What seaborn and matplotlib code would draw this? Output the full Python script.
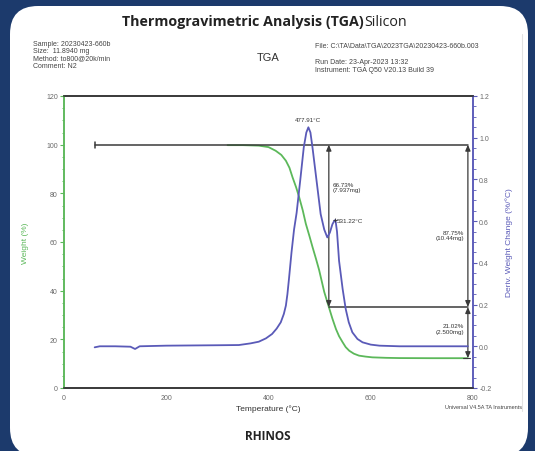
import numpy as np
import pandas as pd
import matplotlib
matplotlib.use("Agg")
import matplotlib.pyplot as plt
from matplotlib.patches import FancyBboxPatch
from matplotlib.lines import Line2D
from matplotlib.ticker import MultipleLocator
import seaborn as sns

# ---------------- data ----------------
weight_temp = [320, 350, 381, 400, 414, 425, 434, 441, 447, 454, 460, 467, 473, 480,
               486, 493, 499, 509, 518, 525, 532, 538, 545, 551, 558, 567, 577, 590,
               603, 630, 656, 720, 790]
weight_pct = [99.8, 99.8, 99.6, 99.0, 97.5, 95.8, 93.4, 90.5, 86.6, 82.5, 78.4, 73.0,
              67.5, 62.5, 58.0, 53.0, 48.5, 39.5, 33.3, 28.5, 24.2, 21.3, 18.8, 16.8,
              15.3, 14.1, 13.3, 12.9, 12.6, 12.4, 12.3, 12.25, 12.25]

deriv_temp = [60, 70, 100, 130, 139, 148, 200, 300, 342, 365, 381, 395, 407, 416, 424,
              430, 434, 437, 440, 445, 450, 455, 462, 469, 474, 478, 482, 486, 494,
              502, 509, 515, 520, 525, 529, 531, 534, 538, 545, 551, 557, 564, 574,
              584, 600, 617, 656, 720, 790]
deriv_val = [-0.005, 0.0, 0.0, -0.002, -0.013, 0.0, 0.003, 0.005, 0.006, 0.014, 0.022,
             0.038, 0.059, 0.085, 0.115, 0.155, 0.195, 0.25, 0.322, 0.45, 0.56, 0.64,
             0.794, 0.954, 1.025, 1.05, 1.025, 0.954, 0.794, 0.634, 0.56, 0.522, 0.545,
             0.585, 0.603, 0.605, 0.55, 0.41, 0.275, 0.179, 0.115, 0.067, 0.035, 0.019,
             0.008, 0.003, 0.0, 0.0, 0.0]

peak_labels = ["477.91°C", "531.22°C"]
peak_temps = [478, 531]
peak_vals = [1.05, 0.605]

step_temp = 518
step_end_temp = 790
step_top = 100.0
step_mid = 33.27
step_end = 12.25
step_labels = ["66.73%\n(7.937mg)", "87.75%\n(10.44mg)", "21.02%\n(2.500mg)"]

x_ticks = [0, 200, 400, 600, 800]
y_ticks = [0, 20, 40, 60, 80, 100, 120]
y2_ticks = [-0.2, 0.0, 0.2, 0.4, 0.6, 0.8, 1.0, 1.2]

info_left = ["Sample: 20230423-660b", "Size:  11.8940 mg", "Method: to800@20k/min", "Comment: N2"]
info_right = ["File: C:\\TA\\Data\\TGA\\2023TGA\\20230423-660b.003", "",
              "Run Date: 23-Apr-2023 13:32", "Instrument: TGA Q50 V20.13 Build 39"]

# ---------------- style ----------------
sns.set_style("white")
plt.rcParams['font.family'] = ['Liberation Sans', 'DejaVu Sans']

W, H = 535, 452
fig = plt.figure(figsize=(W / 100, H / 100), dpi=100)
fig.patch.set_facecolor("#1c3a6c")

panel = FancyBboxPatch((0.10, -0.05), 5.18, 4.50,
                       boxstyle="round,pad=0,rounding_size=0.28",
                       transform=fig.dpi_scale_trans, facecolor="white",
                       edgecolor="none", zorder=-10)
fig.patches.append(panel)
fig.lines.append(Line2D([522 / W, 522 / W], [1 - 35 / H, 1 - 412 / H],
                        transform=fig.transFigure, color="#e2e2e2", lw=0.8, zorder=-5))

GREEN = "#5cb85a"
BLUE = "#5a5ab8"
GREY = "#6a6a6a"
DARK = "#333333"

ax = fig.add_axes([64 / W, 1 - 389 / H, (473 - 64) / W, (389 - 97) / H])
ax.set_facecolor("none")
ax2 = ax.twinx()

wdf = pd.DataFrame({"Temperature": weight_temp, "Weight": weight_pct})
ddf = pd.DataFrame({"Temperature": deriv_temp, "Deriv": deriv_val})

sns.lineplot(data=wdf, x="Temperature", y="Weight", ax=ax, color=GREEN, lw=1.3, zorder=2)
sns.lineplot(data=ddf, x="Temperature", y="Deriv", ax=ax2, color=BLUE, lw=1.3, zorder=2)

ax.set_xlim(0, 800)
ax.set_ylim(0, 120)
ax2.set_ylim(-0.2, 1.2)

ax.set_xticks(x_ticks)
ax.set_yticks(y_ticks)
ax2.set_yticks(y2_ticks)
ax2.set_yticklabels([f"{v:.1f}" for v in y2_ticks])
ax.xaxis.set_minor_locator(MultipleLocator(50))
ax.yaxis.set_minor_locator(MultipleLocator(5))
ax2.yaxis.set_minor_locator(MultipleLocator(0.05))

for a in (ax, ax2):
    a.tick_params(which="major", direction="out", length=3, width=0.8,
                  labelsize=5, labelcolor=GREY, pad=1.5)
    a.tick_params(which="minor", direction="out", length=1.8, width=0.6)
ax.tick_params(axis="y", which="both", color=GREEN)
ax.tick_params(axis="x", which="both", color=DARK)
ax2.tick_params(axis="y", which="both", color=BLUE)

for a in (ax, ax2):
    a.spines["top"].set_color(DARK)
    a.spines["bottom"].set_color(DARK)
    a.spines["left"].set_color(GREEN)
    a.spines["right"].set_color(BLUE)
    for s in a.spines.values():
        s.set_linewidth(1.1)
        s.set_visible(True)

ax.set_xlabel("Temperature (°C)", fontsize=6, color=DARK, labelpad=2)
ax.set_ylabel("Weight (%)", fontsize=6, color=GREEN, labelpad=12)
ax2.set_ylabel("Deriv. Weight Change (%/°C)", fontsize=6, color=BLUE, labelpad=10)

# ---------------- step annotations ----------------
lc = "#3a3a3a"
ax.plot([60, step_end_temp], [step_top, step_top], color=lc, lw=1.1, zorder=3)
ax.plot([60, 60], [step_top - 1.3, step_top + 1.3], color=lc, lw=1.1, zorder=3)
ax.plot([step_temp, step_end_temp], [step_mid, step_mid], color=lc, lw=1.1, zorder=3)
ax.plot([step_end_temp - 10, step_end_temp + 5], [step_end, step_end], color=lc, lw=0.8, zorder=3)
ap = dict(arrowstyle="<|-|>,head_length=0.35,head_width=0.15", color=lc, lw=0.9,
          shrinkA=0, shrinkB=0)
ax.annotate("", xy=(step_temp, step_top), xytext=(step_temp, step_mid), arrowprops=ap, zorder=3)
ax.annotate("", xy=(step_end_temp, step_top), xytext=(step_end_temp, step_mid), arrowprops=ap, zorder=3)
ax.annotate("", xy=(step_end_temp, step_mid), xytext=(step_end_temp, step_end), arrowprops=ap, zorder=3)

ax.text(step_temp + 8, 82.5, step_labels[0], fontsize=4.5, color=DARK, ha="left", va="center",
        linespacing=1.1)
ax.text(step_end_temp - 7, 62.8, step_labels[1], fontsize=4.5, color=DARK, ha="right", va="center",
        linespacing=1.1)
ax.text(step_end_temp - 7, 24.5, step_labels[2], fontsize=4.5, color=DARK, ha="right", va="center",
        linespacing=1.1)

ax2.text(peak_temps[0], peak_vals[0] + 0.025, peak_labels[0], fontsize=4.5, color=DARK,
         ha="center", va="bottom")
ax2.plot([peak_temps[1]], [peak_vals[1]], marker="+", color=DARK, ms=3, mew=0.6)
ax2.text(peak_temps[1] + 3, peak_vals[1], peak_labels[1], fontsize=4.5, color=DARK,
         ha="left", va="center")

# ---------------- header / footer texts ----------------
def ftext(x, y, s, **kw):
    fig.text(x / W, 1 - y / H, s, **kw)

ftext(364, 22, "Thermogravimetric Analysis (TGA)", fontsize=10.3, fontweight="bold",
      family=["Open Sans", "DejaVu Sans"], color="#222222", ha="right", va="center")
ftext(364, 22, "Silicon", fontsize=10.3, family=["Open Sans", "DejaVu Sans"],
      color="#222222", ha="left", va="center")
for i, s in enumerate(info_left):
    ftext(33, 44 + i * 7.4, s, fontsize=5, color="#444444", ha="left", va="center")
ftext(268, 58, "TGA", fontsize=8, color="#333333", ha="center", va="center")
for i, s in enumerate(info_right):
    if s:
        ftext(315, 47 + i * 8, s, fontsize=5, color="#444444", ha="left", va="center")
ftext(522, 408, "Universal V4.5A TA Instruments", fontsize=4, color="#444444",
      ha="right", va="center")
ftext(268, 437, "RHINOS", fontsize=8.5, fontweight="bold",
      family=["Open Sans", "DejaVu Sans"], color="#222222", ha="center", va="center")

fig.savefig("out.png", dpi=100, facecolor=fig.get_facecolor())
